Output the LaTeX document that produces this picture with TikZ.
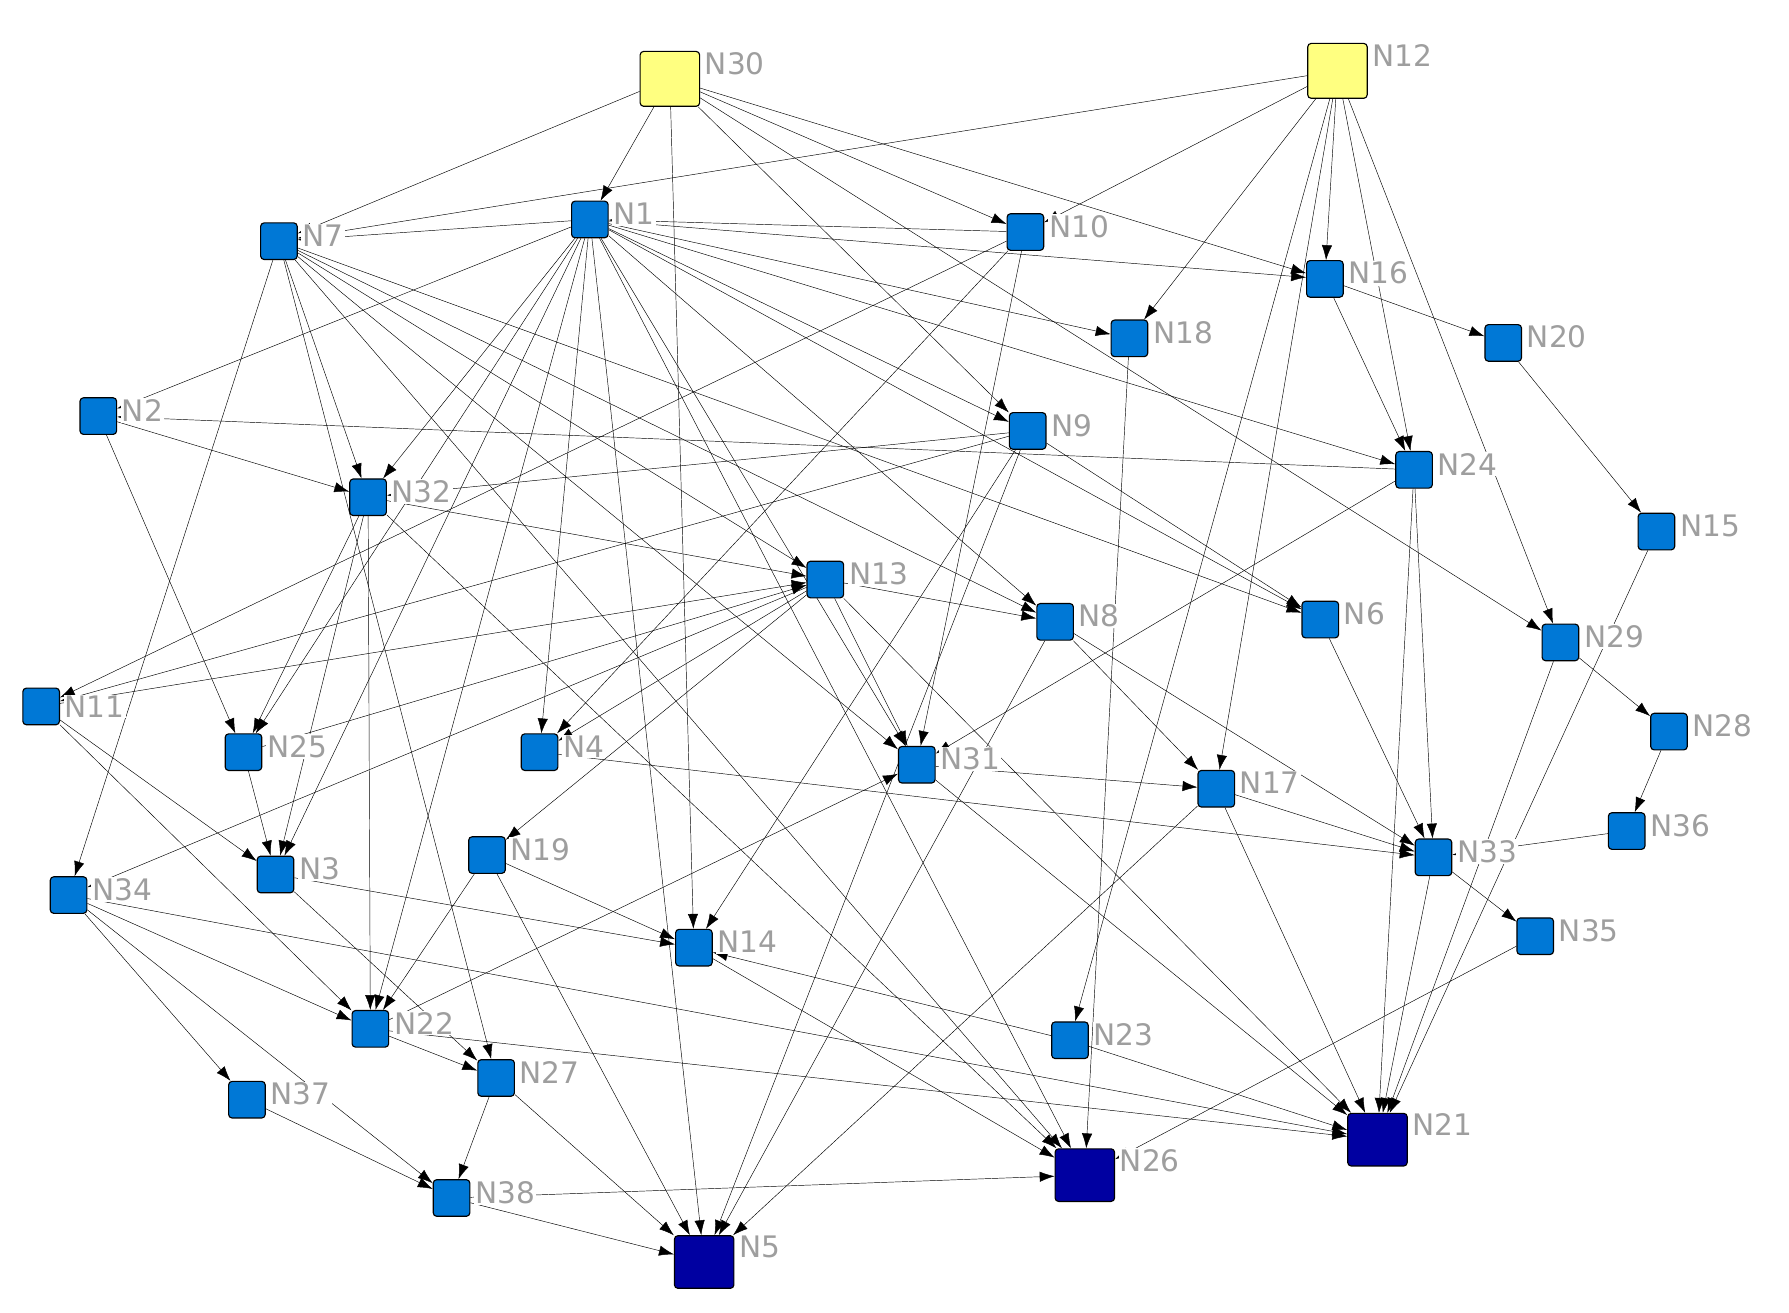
\documentclass[tikz,border=0pt]{standalone}
\usepackage{fontspec}
\setmainfont{DejaVu Sans}
\usetikzlibrary{arrows.meta,backgrounds}
\definecolor{nodeblue}{rgb}{0.0,0.47,0.84}
\definecolor{nodedark}{rgb}{0.0,0.0,0.63}
\definecolor{nodeyellow}{rgb}{1.0,1.0,0.5}
\definecolor{lblgray}{rgb}{0.62,0.62,0.62}
\tikzset{
  lbl/.style={text=lblgray,fill=white,inner sep=1bp,xshift=3bp,yshift=5bp,font=\fontsize{26}{26}\selectfont},
  box/.style={draw=black,line width=1bp,rounded corners=3bp,minimum size=32bp,inner sep=0pt,fill=nodeblue},
  src/.style={box,fill=nodeyellow,minimum width=52bp,minimum height=48bp},
  sink/.style={box,fill=nodedark,minimum width=52bp,minimum height=46bp},
}
\begin{document}
\begin{tikzpicture}[>={Latex[length=13bp,width=9bp]},line join=bevel]
\useasboundingbox (0bp,0bp) rectangle (1565bp,1148bp);
%%
  \node (N30) at (586bp,1079bp) [src,label={[lbl,yshift=8bp]right:N30}] {};
  \node (N12) at (1170bp,1086bp) [src,label={[lbl,yshift=8bp]right:N12}] {};
  \node (N1) at (516bp,956bp) [box,label={[lbl]right:N1}] {};
  \node (N7) at (244bp,937bp) [box,label={[lbl]right:N7}] {};
  \node (N10) at (897bp,945bp) [box,label={[lbl]right:N10}] {};
  \node (N16) at (1159bp,904bp) [box,label={[lbl]right:N16}] {};
  \node (N18) at (988bp,852bp) [box,label={[lbl]right:N18}] {};
  \node (N20) at (1315bp,848bp) [box,label={[lbl]right:N20}] {};
  \node (N2) at (86bp,784bp) [box,label={[lbl]right:N2}] {};
  \node (N9) at (899bp,771bp) [box,label={[lbl]right:N9}] {};
  \node (N24) at (1237bp,737bp) [box,label={[lbl]right:N24}] {};
  \node (N32) at (322bp,713bp) [box,label={[lbl]right:N32}] {};
  \node (N15) at (1449bp,683bp) [box,label={[lbl]right:N15}] {};
  \node (N13) at (722bp,641bp) [box,label={[lbl]right:N13}] {};
  \node (N8) at (923bp,604bp) [box,label={[lbl]right:N8}] {};
  \node (N6) at (1155bp,606bp) [box,label={[lbl]right:N6}] {};
  \node (N29) at (1365bp,586bp) [box,label={[lbl]right:N29}] {};
  \node (N11) at (36bp,530bp) [box,label={[lbl,yshift=-5bp]right:N11}] {};
  \node (N25) at (213bp,490bp) [box,label={[lbl]right:N25}] {};
  \node (N4) at (472bp,490bp) [box,label={[lbl]right:N4}] {};
  \node (N31) at (802bp,479bp) [box,label={[lbl]right:N31}] {};
  \node (N28) at (1460bp,508bp) [box,label={[lbl]right:N28}] {};
  \node (N17) at (1064bp,458bp) [box,label={[lbl]right:N17}] {};
  \node (N36) at (1423bp,421bp) [box,label={[lbl]right:N36}] {};
  \node (N19) at (426bp,400bp) [box,label={[lbl]right:N19}] {};
  \node (N33) at (1254bp,398bp) [box,label={[lbl]right:N33}] {};
  \node (N3) at (241bp,383bp) [box,label={[lbl]right:N3}] {};
  \node (N34) at (60bp,365bp) [box,label={[lbl]right:N34}] {};
  \node (N14) at (607bp,319bp) [box,label={[lbl]right:N14}] {};
  \node (N35) at (1343bp,329bp) [box,label={[lbl]right:N35}] {};
  \node (N22) at (324bp,248bp) [box,label={[lbl]right:N22}] {};
  \node (N23) at (936bp,238bp) [box,label={[lbl]right:N23}] {};
  \node (N27) at (434bp,205bp) [box,label={[lbl]right:N27}] {};
  \node (N37) at (216bp,186bp) [box,label={[lbl]right:N37}] {};
  \node (N21) at (1205bp,151bp) [sink,label={[lbl,yshift=8bp]right:N21}] {};
  \node (N26) at (949bp,120bp) [sink,label={[lbl,yshift=8bp]right:N26}] {};
  \node (N38) at (395bp,100bp) [box,label={[lbl]right:N38}] {};
  \node (N5) at (616bp,44bp) [sink,label={[lbl,yshift=8bp]right:N5}] {};
%
\begin{scope}[on background layer,line width=0.9bp]
  \foreach \a/\b in {N30/N7,N30/N1,N30/N14,N30/N10,N30/N16,N30/N9,N30/N29,
    N12/N7,N12/N10,N12/N18,N12/N23,N12/N17,N12/N16,N12/N24,N12/N29,
    N1/N7,N10/N1,N1/N2,N1/N32,N1/N25,N1/N22,N1/N4,N1/N5,N1/N26,N1/N8,N1/N6,
    N1/N24,N1/N18,N1/N16,N1/N9,N1/N31,N1/N3,
    N7/N34,N7/N32,N7/N27,N7/N31,N7/N13,N7/N6,N7/N8,N7/N26,
    N16/N20,N16/N24,N20/N15,N24/N2,N2/N32,N2/N25,N9/N32,N9/N6,N9/N11,N9/N14,
    N32/N13,N11/N13,N25/N13,N13/N8,N13/N4,N13/N31,N13/N19,N13/N34,N13/N21,
    N29/N28,N28/N36,N36/N33,N17/N33,N8/N33,N24/N33,N6/N33,N4/N33,N33/N35,
    N33/N21,N24/N21,N17/N21,N31/N21,N23/N21,N34/N21,N22/N21,N29/N21,
    N32/N26,N14/N26,N18/N26,N38/N26,N35/N26,
    N19/N5,N27/N5,N38/N5,N17/N5,N9/N5,
    N3/N14,N19/N14,N23/N14,
    N34/N22,N11/N22,N32/N22,N19/N22,N22/N31,N10/N31,N10/N4,N10/N11,
    N25/N3,N11/N3,N32/N3,N32/N25,N31/N17,N8/N17,N24/N31,
    N34/N37,N37/N38,N34/N38,N27/N38,N22/N27,N3/N27,N15/N21,N8/N5}
    \draw [->] (\a) -- (\b);
\end{scope}
%
\end{tikzpicture}
\end{document}
